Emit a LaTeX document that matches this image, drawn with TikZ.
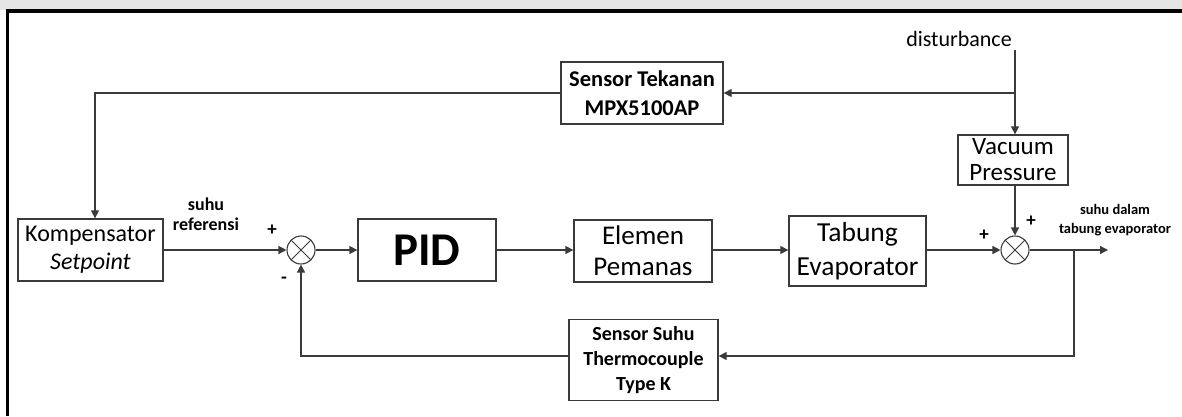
\documentclass[tikz,border=0pt]{standalone}
\usepackage{fontspec}
\setmainfont{Carlito}
\usetikzlibrary{arrows.meta,calc}
\definecolor{linec}{HTML}{3A3A3A}
\begin{document}
\begin{tikzpicture}[x=1pt,y=-1pt,
  blk/.style={draw=linec, line width=1.3pt, fill=white, align=center, inner sep=0pt},
  sumnode/.style={circle, draw=linec, line width=1.1pt, minimum size=28pt, inner sep=0pt,
    path picture={\draw[linec,line width=0.9pt]
      (path picture bounding box.north west) -- (path picture bounding box.south east)
      (path picture bounding box.north east) -- (path picture bounding box.south west);}},
  conn/.style={draw=linec, line width=1.3pt},
  arr/.style={conn, -{Triangle[length=8pt,width=8pt]}},
  lbl/.style={align=center, inner sep=0pt, font=\fontsize{18}{20}\selectfont\bfseries},
  sgn/.style={inner sep=0pt, font=\fontsize{19}{20}\selectfont\bfseries}]
\useasboundingbox (0,0) rectangle (1182,416);
\fill[gray!20] (0,0) rectangle (1182,10);
\draw[line width=3.5pt] (7.5,416) -- (7.5,11) -- (1182,11);

\node[blk, minimum width=145pt, minimum height=62pt, font=\fontsize{24}{28}\selectfont] (komp) at (90.5,250) {Kompensator\\\textit{Setpoint}};
\node[blk, minimum width=138pt, minimum height=62pt, font=\fontsize{47}{50}\selectfont\bfseries] (pid) at (427,250) {PID};
\node[blk, minimum width=138pt, minimum height=62pt, font=\fontsize{27}{31}\selectfont] (elem) at (643,251) {Elemen\\Pemanas};
\node[blk, minimum width=137pt, minimum height=70pt, font=\fontsize{27.5}{34}\selectfont] (tab) at (857.5,251) {Tabung\\Evaporator};
\node[blk, minimum width=110pt, minimum height=50pt, font=\fontsize{25}{26}\selectfont] (vac) at (1013,160) {Vacuum\\Pressure};
\node[blk, minimum width=162pt, minimum height=62pt, font=\fontsize{22.5}{29}\selectfont\bfseries] (stek) at (642,93) {Sensor Tekanan\\MPX5100AP};
\node[blk, minimum width=149pt, minimum height=81pt, font=\fontsize{20}{25}\selectfont\bfseries] (ssuhu) at (643.5,360) {Sensor Suhu\\Thermocouple\\Type K};
\node[sumnode] (s1) at (301,250) {};
\node[sumnode] (s2) at (1015,250) {};
\node[inner sep=0pt, font=\fontsize{22}{25}\selectfont] (dist) at (959,39) {disturbance};

\coordinate (br) at (1074,250);
\coordinate (out) at (1108,250);
\coordinate (dtop) at (1015,50);
\coordinate (dj) at (1015,93);
\coordinate (tl) at (95,93);
\coordinate (fbR) at (1074,356);
\coordinate (fbL) at (301,356);

\draw[arr] (komp.east) -- (s1.west);
\draw[arr] (s1.east) -- (pid.west);
\draw[arr] (pid.east) -- (pid.east -| elem.west);
\draw[arr] (elem.east |- s2) -- (tab.west |- s2);
\draw[arr] (tab.east |- s2) -- (s2.west);
\draw[arr] (s2.east) -- (out);
\draw[arr] (dtop) -- (dtop |- vac.north);
\draw[arr] (s2 |- vac.south) -- (s2.north);
\draw[arr] (dj) -- (stek.east |- dj);
\draw[arr] (stek.west |- tl) -- (tl) -- (tl |- komp.north);
\draw[arr] (br) -- (fbR) -- (ssuhu.east |- fbR);
\draw[arr] (ssuhu.west |- fbL) -- (fbL) -- (s1.south);

\node[lbl] (sref) at (206,214) {suhu\\referensi};
\node[sgn] (p1) at (272,230) {+};
\node[sgn] (m1) at (284,280) {-};
\node[sgn] (p2) at (984,235) {+};
\node[sgn] (p3) at (1031,221) {+};
\node[lbl, font=\fontsize{14.5}{19}\selectfont\bfseries] (sout) at (1115,220) {suhu dalam\\tabung evaporator};
\end{tikzpicture}
\end{document}
